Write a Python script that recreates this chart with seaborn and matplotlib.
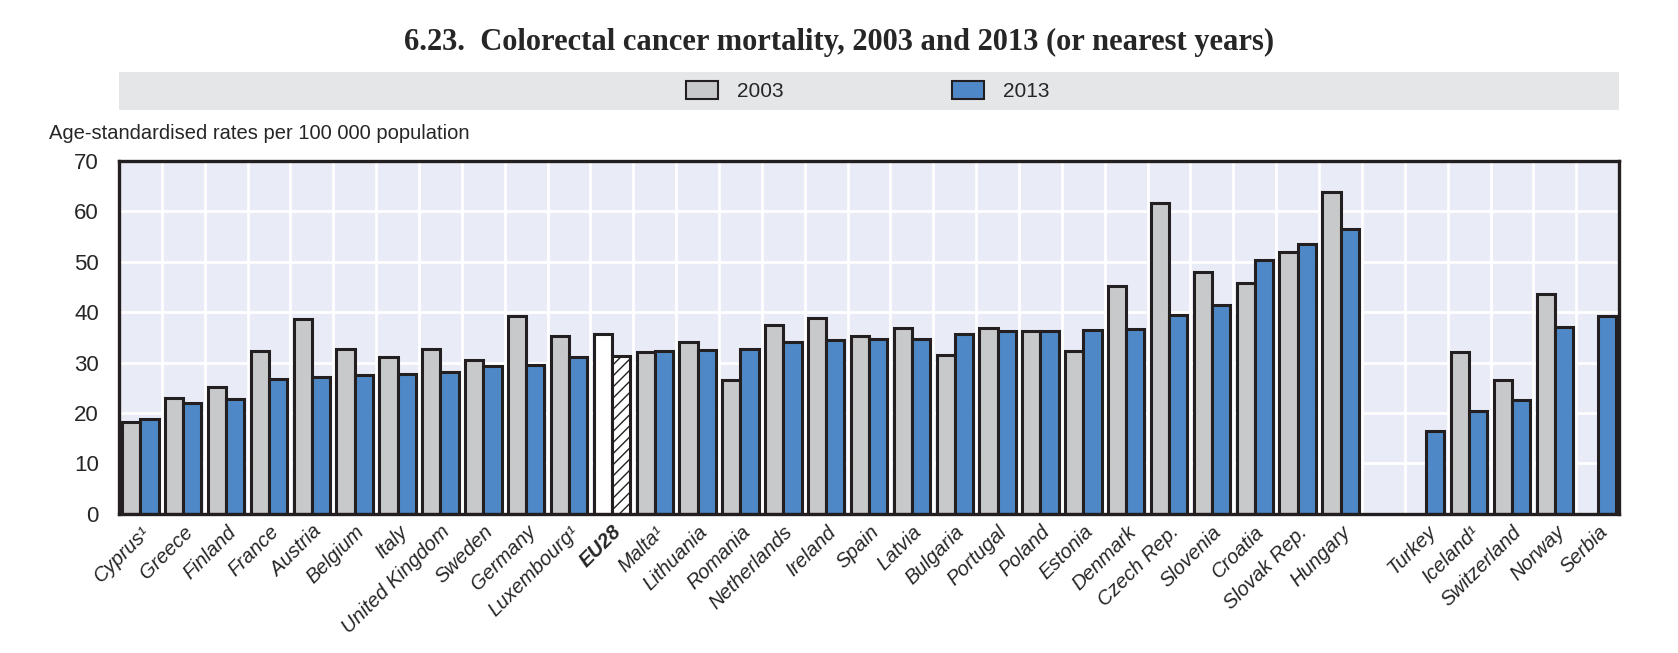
import pandas as pd
import numpy as np
import matplotlib.pyplot as plt
import matplotlib.patches as mpatches
from matplotlib.ticker import FixedLocator
import seaborn as sns

# Chart data
countries = ['Cyprus¹', 'Greece', 'Finland', 'France', 'Austria', 'Belgium', 'Italy',
             'United Kingdom', 'Sweden', 'Germany', 'Luxembourg¹', 'EU28', 'Malta¹',
             'Lithuania', 'Romania', 'Netherlands', 'Ireland', 'Spain', 'Latvia',
             'Bulgaria', 'Portugal', 'Poland', 'Estonia', 'Denmark', 'Czech Rep.',
             'Slovenia', 'Croatia', 'Slovak Rep.', 'Hungary', ' ',
             'Turkey', 'Iceland¹', 'Switzerland', 'Norway', 'Serbia']
rate_2003 = [18.2, 22.9, 25.2, 32.2, 38.6, 32.6, 31.0, 32.6, 30.4, 39.2, 35.2, 35.6, 32.0,
             34.0, 26.6, 37.4, 38.8, 35.2, 36.8, 31.4, 36.8, 36.2, 32.2, 45.2, 61.7,
             47.9, 45.8, 51.9, 63.7, np.nan,
             np.nan, 32.0, 26.6, 43.6, np.nan]
rate_2013 = [18.9, 21.9, 22.7, 26.8, 27.2, 27.6, 27.8, 28.2, 29.4, 29.6, 31.0, 31.2, 32.2,
             32.4, 32.6, 34.0, 34.4, 34.6, 34.6, 35.6, 36.2, 36.2, 36.4, 36.6, 39.4,
             41.4, 50.3, 53.5, 56.5, np.nan,
             16.5, 20.3, 22.5, 37.0, 39.2]
years = ['2003', '2013']

df = pd.DataFrame({'Country': countries, '2003': rate_2003, '2013': rate_2013})
long = df.melt(id_vars='Country', var_name='Year', value_name='Rate').dropna()

grey = '#C8C9CB'
blue = '#4F88C6'
dark = '#231F20'

sns.set_style('white')
plt.rcParams['font.family'] = ['Liberation Sans', 'DejaVu Sans']
plt.rcParams['hatch.color'] = dark
plt.rcParams['hatch.linewidth'] = 1.0

fig = plt.figure(figsize=(16.78, 6.53), dpi=100)
ax = fig.add_axes([0.0709, 0.213, 0.894, 0.541])

sns.barplot(data=long, x='Country', y='Rate', hue='Year', order=countries,
            hue_order=years, palette=[grey, blue], width=0.85, saturation=1,
            edgecolor=dark, linewidth=2.2, legend=False, ax=ax)

# EU28 bars: white, and hatched for 2013
eu_idx = countries.index('EU28')
for cont, yr in zip(ax.containers, years):
    for bar in cont:
        if abs(bar.get_x() + bar.get_width() / 2 - eu_idx) < 0.5:
            bar.set_facecolor('white')
            if yr == '2013':
                bar.set_hatch('///')

ax.set_facecolor('#E9ECF6')
ax.set_axisbelow(True)
ax.set_xlim(-0.5, len(countries) - 0.5)
ax.set_ylim(0, 70)
ax.set_yticks(range(0, 71, 10))
ax.xaxis.set_minor_locator(FixedLocator(np.arange(0.5, len(countries) - 0.5, 1)))
ax.grid(axis='y', which='major', color='white', linewidth=2)
ax.grid(axis='x', which='minor', color='white', linewidth=2)
ax.tick_params(axis='x', which='major', length=0, pad=6)
ax.tick_params(axis='x', which='minor', direction='in', length=7, width=1, color=dark)
ax.tick_params(axis='y', direction='inout', length=9, width=1.2, color=dark,
               labelsize=16, pad=10)
for s in ax.spines.values():
    s.set_color(dark)
    s.set_linewidth(2.4)
ax.set_xlabel('')
ax.set_ylabel('')

ax.set_xticks(range(len(countries)))
ax.set_xticklabels(countries, rotation=45, ha='right', rotation_mode='anchor',
                   fontsize=14.5, fontstyle='italic')
for lab in ax.get_xticklabels():
    if lab.get_text() == 'EU28':
        lab.set_fontweight('bold')

# Title, legend band, axis label
fig.text(0.5, 0.935, '6.23.  Colorectal cancer mortality, 2003 and 2013 (or nearest years)',
         ha='center', va='center', fontsize=22, fontweight='bold',
         family=['Liberation Serif', 'DejaVu Serif'])
fig.patches.append(mpatches.Rectangle((0.0709, 0.832), 0.894, 0.057,
                                      transform=fig.transFigure, facecolor='#E5E6E8',
                                      edgecolor='none', zorder=0))
handles = [mpatches.Patch(facecolor=grey, edgecolor=dark, linewidth=1.5),
           mpatches.Patch(facecolor=blue, edgecolor=dark, linewidth=1.5)]
fig.legend(handles, years, loc='center', bbox_to_anchor=(0.517, 0.861), ncol=2,
           frameon=False, fontsize=15, handlelength=1.55, handleheight=1.0,
           columnspacing=8.1, handletextpad=0.9)
fig.text(0.029, 0.795, 'Age-standardised rates per 100 000 population',
         ha='left', va='center', fontsize=14.5)

plt.savefig('out.png', dpi=100)
plt.close()
